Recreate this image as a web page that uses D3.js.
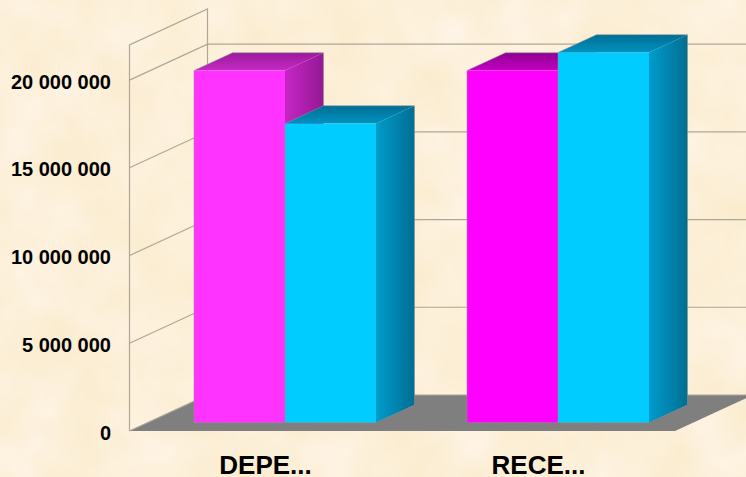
<!DOCTYPE html>
<html><head><meta charset="utf-8">
<script src="https://cdnjs.cloudflare.com/ajax/libs/d3/7.8.5/d3.min.js"></script>
<style>html,body{margin:0;padding:0;background:#fcefd6;overflow:hidden}svg{display:block}text{font-family:"Liberation Sans",Arial,sans-serif;font-weight:bold;fill:#000}</style>
</head><body><div id="c"></div>
<script>
const categories = ["DEPE...", "RECE..."];
const seriesA = [20070000, 20070000];
const seriesB = [17050000, 21100000];
const yTicks = [0, 5000000, 10000000, 15000000, 20000000];
const tickLabels = ["0", "5 000 000", "10 000 000", "15 000 000", "20 000 000"];
const colorsA = [
  {front:"#ff33ff", s0:"#c626c6", s1:"#931893", t0:"#c42ac4", t1:"#9a1a9a"},
  {front:"#ff00ff", s0:"#c000c0", s1:"#900090", t0:"#c200c2", t1:"#900090"}
];
const colorB = {front:"#00ccff", s0:"#009ccc", s1:"#006e92", t0:"#0092bf", t1:"#006e94"};

const W=746,H=477;
const svg=d3.select("#c").append("svg").attr("width",W).attr("height",H);
const defs=svg.append("defs");

// parchment
const paper=defs.append("filter").attr("id","paper").attr("x",0).attr("y",0).attr("width","100%").attr("height","100%").attr("color-interpolation-filters","sRGB");
paper.append("feTurbulence").attr("type","fractalNoise").attr("baseFrequency","0.016").attr("numOctaves",3).attr("seed",7).attr("result","n");
paper.append("feColorMatrix").attr("in","n").attr("type","matrix")
 .attr("values","0.02 0 0 0 0.98  0.05 0 0 0 0.915  0.14 0 0 0 0.78  0 0 0 0 1");
svg.append("rect").attr("width",W).attr("height",H).attr("filter","url(#paper)");

// depth geometry
const wallDx=78, wallDy=-36;
const barOffX=19.5, barOffY=-8.3, barDx=38.5, barDy=-17.8;
const y=d3.scaleLinear().domain([0,22000000]).range([431,45]);
const xFront=d3.scaleBand().domain(categories).range([129,675]).paddingInner(1/3).paddingOuter(1/6);
const sub=d3.scaleBand().domain(["A","B"]).range([0,xFront.bandwidth()]);
const line=d3.line();

// floor
svg.append("path").attr("fill","#7f7f7f").attr("d",
  line([[129,y(0)],[675,y(0)],[675+wallDx,y(0)+wallDy],[129+wallDx,y(0)+wallDy]])+"Z");

// walls and grid
const grid=svg.append("g").attr("fill","none").attr("stroke","#aea696").attr("stroke-width",1.2);
const wallTop=y.range()[1];
grid.append("path").attr("d",line([[129.5,y(0)],[129.5,wallTop],[207.5,wallTop+wallDy],[207.5,y(0)+wallDy]]));
yTicks.forEach(v=>{
  const yy=y(v);
  grid.append("path").attr("d",line([[129.5,yy],[207.5,yy+wallDy],[W+2,yy+wallDy]]));
});

// bars
function grad(id,c0,c1,hor){
  const g=defs.append("linearGradient").attr("id",id).attr("x1",0).attr("y1",hor?0:1).attr("x2",hor?1:0).attr("y2",0);
  g.append("stop").attr("offset",0).attr("stop-color",c0);
  g.append("stop").attr("offset",1).attr("stop-color",c1);
  return `url(#${id})`;
}
function bar(cat,i,key,val,c){
  const x0=xFront(cat)+sub(key)+barOffX, x1=x0+sub.bandwidth();
  const yb=y(0)+barOffY, yt=y(val)+barOffY;
  const g=svg.append("g");
  g.append("path").attr("fill",grad("s"+key+i,c.s0,c.s1,true)).attr("d",
    line([[x1,yb],[x1+barDx,yb+barDy],[x1+barDx,yt+barDy],[x1,yt]])+"Z");
  g.append("path").attr("fill",grad("t"+key+i,c.t0,c.t1,false)).attr("d",
    line([[x0,yt],[x1,yt],[x1+barDx,yt+barDy],[x0+barDx,yt+barDy]])+"Z");
  g.append("rect").attr("x",x0).attr("y",yt).attr("width",x1-x0).attr("height",yb-yt).attr("fill",c.front);
  g.append("path").attr("fill","none").attr("stroke","#8f8f8f").attr("stroke-opacity",0.55).attr("stroke-width",1)
    .attr("d",line([[x0,yb],[x0,yt],[x0+barDx,yt+barDy],[x1+barDx,yt+barDy],[x1+barDx,yb+barDy],[x1,yb],[x0,yb]]));
}
categories.forEach((c,i)=>{
  bar(c,i,"A",seriesA[i],colorsA[i]);
  bar(c,i,"B",seriesB[i],colorB);
});

// axis labels
const yAxis=d3.axisLeft(y).tickValues(yTicks).tickSize(0).tickPadding(0).tickFormat((d,i)=>tickLabels[i]);
const ga=svg.append("g").attr("transform","translate(111,0)").call(yAxis);
ga.select(".domain").remove();
ga.selectAll("text").attr("font-size",20).style("font-family",'"Liberation Sans",Arial,sans-serif').style("font-weight","bold").attr("fill","#000").attr("dy","0.4em");

const xAxis=d3.axisBottom(xFront).tickSize(0).tickPadding(0);
const gx=svg.append("g").attr("transform","translate(0,455.5)").call(xAxis);
gx.select(".domain").remove();
gx.selectAll("text").attr("font-size",26).style("font-family",'"Liberation Sans",Arial,sans-serif').style("font-weight","bold").attr("fill","#000");
</script></body></html>
